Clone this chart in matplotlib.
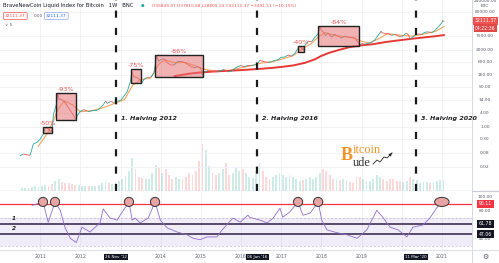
import numpy as np
import matplotlib
matplotlib.use("Agg")
import matplotlib.pyplot as plt
import matplotlib.transforms as mtrans
from matplotlib.collections import LineCollection
from matplotlib.patches import Rectangle, Ellipse

# ---- data (dates as fractional years) ----
price_t = [2010.50, 2010.58, 2010.67, 2010.75, 2010.83, 2010.92, 2011.00, 2011.08, 2011.13, 2011.20,
           2011.27, 2011.30, 2011.33, 2011.40, 2011.44, 2011.47, 2011.50, 2011.58, 2011.67, 2011.75,
           2011.83, 2011.88, 2011.92, 2012.00, 2012.08, 2012.17, 2012.25, 2012.33, 2012.42, 2012.50,
           2012.58, 2012.63, 2012.67, 2012.75, 2012.83, 2012.92, 2013.00, 2013.08, 2013.17, 2013.25,
           2013.28, 2013.33, 2013.42, 2013.50, 2013.52, 2013.58, 2013.67, 2013.75, 2013.83, 2013.90,
           2013.95, 2014.00, 2014.08, 2014.17, 2014.25, 2014.33, 2014.42, 2014.50, 2014.58, 2014.67,
           2014.75, 2014.83, 2014.92, 2015.00, 2015.04, 2015.08, 2015.17, 2015.25, 2015.33, 2015.42,
           2015.50, 2015.58, 2015.67, 2015.75, 2015.83, 2015.92, 2016.00, 2016.08, 2016.17, 2016.25,
           2016.33, 2016.42, 2016.47, 2016.50, 2016.58, 2016.67, 2016.75, 2016.83, 2016.92, 2017.00,
           2017.08, 2017.17, 2017.25, 2017.33, 2017.42, 2017.45, 2017.50, 2017.55, 2017.58, 2017.67,
           2017.75, 2017.83, 2017.92, 2017.96, 2018.00, 2018.08, 2018.10, 2018.17, 2018.25, 2018.33,
           2018.42, 2018.50, 2018.58, 2018.67, 2018.75, 2018.83, 2018.92, 2018.96, 2019.00, 2019.08,
           2019.17, 2019.25, 2019.33, 2019.42, 2019.49, 2019.50, 2019.58, 2019.67, 2019.75, 2019.83,
           2019.92, 2020.00, 2020.08, 2020.12, 2020.17, 2020.21, 2020.25, 2020.33, 2020.42, 2020.50,
           2020.58, 2020.67, 2020.75, 2020.83, 2020.92, 2021.00, 2021.02, 2021.04, 2021.06]
price = [0.06, 0.07, 0.065, 0.062, 0.19, 0.22, 0.30, 0.52, 0.95, 0.86,
         0.60, 0.78, 3.5, 8.7, 28, 15, 16.1, 13.4, 8.2, 5.1,
         3.2, 2.2, 3.0, 4.7, 5.5, 4.9, 4.9, 5.0, 5.2, 6.7,
         9.4, 13, 10.2, 12.4, 11.2, 12.6, 13.5, 20.4, 33.4, 93,
         230, 139, 129, 97, 70, 106, 135, 133, 198, 1100,
         650, 760, 830, 550, 450, 445, 628, 640, 587, 478,
         386, 338, 378, 320, 160, 217, 254, 244, 236, 230,
         263, 284, 230, 236, 314, 377, 430, 368, 437, 416,
         448, 531, 720, 673, 624, 573, 608, 700, 742, 963,
         970, 1190, 1080, 1348, 2300, 2900, 2480, 1900, 2875, 4700,
         4340, 6470, 9950, 19000, 13860, 10220, 8000, 10300, 6930, 9240,
         7490, 6400, 7730, 7030, 6630, 6320, 4020, 3250, 3740, 3460,
         3850, 4100, 5330, 8570, 12500, 10820, 10080, 9630, 8290, 9200,
         7570, 7190, 9350, 10300, 8600, 5800, 6440, 8660, 9460, 9140,
         11350, 11680, 10780, 13800, 19700, 29000, 36000, 34000, 32111.37]

ma_fast_t = [2010.95, 2011.2, 2011.45, 2011.6, 2011.8, 2012.0, 2012.3, 2012.6, 2012.9, 2013.1,
             2013.3, 2013.5, 2013.75, 2013.95, 2014.1, 2014.35, 2014.6, 2014.9, 2015.1, 2015.4,
             2015.7, 2015.95, 2016.2, 2016.5, 2016.8, 2017.0, 2017.3, 2017.5, 2017.75, 2017.95,
             2018.1, 2018.3, 2018.55, 2018.8, 2019.0, 2019.2, 2019.45, 2019.65, 2019.9, 2020.1,
             2020.25, 2020.45, 2020.65, 2020.85, 2021.05]
ma_fast = [0.15, 0.6, 6, 13, 9, 4.5, 5, 7, 11, 15,
           60, 105, 125, 480, 740, 560, 580, 390, 290, 240,
           255, 330, 400, 540, 620, 790, 1120, 2050, 3700, 7800,
           10800, 8600, 7300, 6600, 4600, 3900, 6200, 9800, 8700, 8000,
           7700, 8600, 10300, 12500, 19500]

ma_slow_t = [2014.35, 2014.7, 2015.0, 2015.3, 2015.6, 2015.9, 2016.2, 2016.5, 2016.8, 2017.0,
             2017.3, 2017.6, 2017.85, 2018.0, 2018.2, 2018.45, 2018.7, 2019.0, 2019.3, 2019.6,
             2019.9, 2020.2, 2020.5, 2020.8, 2021.05]
ma_slow = [150, 190, 215, 235, 250, 265, 285, 310, 340, 370,
           430, 560, 800, 1100, 1500, 2000, 2600, 3100, 3500, 4300,
           5000, 5800, 6600, 7500, 8500]

# monthly volume from Jul 2010 (arbitrary units)
volume = [3, 3, 3, 4, 5, 4,
          5, 6, 5, 7, 10, 12, 9, 8, 8, 7, 6, 6,
          5, 5, 5, 5, 5, 6, 8, 9, 8, 7, 9, 10,
          12, 15, 20, 33, 22, 14, 13, 12, 12, 18, 26, 24,
          18, 22, 16, 12, 14, 12, 11, 14, 18, 16, 20, 30,
          46, 40, 25, 18, 16, 18, 22, 28, 16, 18, 24, 20,
          22, 18, 14, 13, 20, 28, 20, 14, 12, 14, 16, 18,
          16, 14, 16, 14, 12, 10, 11, 12, 14, 12, 14, 18,
          22, 20, 16, 12, 12, 11, 12, 10, 9, 8, 14, 14,
          12, 10, 10, 12, 16, 14, 12, 10, 12, 12, 10, 10,
          9, 10, 14, 12, 11, 8, 9, 9, 8, 9, 10, 11,
          11]
vol_start = 2010.5

rsi_t = [2010.80, 2011.07, 2011.20, 2011.37, 2011.50, 2011.62, 2011.75, 2011.90, 2012.04, 2012.24,
         2012.49, 2012.57, 2012.74, 2012.92, 2012.99, 2013.21, 2013.29, 2013.36, 2013.49, 2013.69,
         2013.86, 2013.99, 2014.16, 2014.41, 2014.66, 2014.81, 2014.98, 2015.15, 2015.40, 2015.53,
         2015.80, 2015.98, 2016.17, 2016.22, 2016.47, 2016.65, 2016.80, 2016.97, 2017.04, 2017.22,
         2017.42, 2017.54, 2017.72, 2017.92, 2018.01, 2018.14, 2018.39, 2018.64, 2018.89, 2019.13,
         2019.38, 2019.53, 2019.71, 2019.91, 2020.13, 2020.28, 2020.53, 2020.70, 2020.88, 2021.00,
         2021.04]
rsi = [88, 93, 64, 93, 81, 56, 41, 35, 57, 50,
       63, 83, 70, 67, 74, 93, 67, 70, 63, 70,
       93, 67, 56, 50, 46, 41, 39, 43, 43, 53,
       70, 64, 74, 71, 67, 63, 70, 84, 71, 79,
       93, 74, 77, 93, 67, 53, 49, 46, 41, 53,
       81, 71, 57, 53, 43, 57, 60, 70, 85, 94,
       90]

# drawdown boxes: label, start, end, high, low
dd_labels = ["-50%", "-93%", "-75%", "-86%", "-40%", "-84%"]
dd_start = [2011.07, 2011.40, 2013.26, 2013.86, 2017.42, 2017.92]
dd_end = [2011.30, 2011.90, 2013.51, 2015.05, 2017.57, 2018.94]
dd_high = [1.0, 28.3, 300, 1200, 2900, 20800]
dd_low = [0.55, 2.0, 76, 137, 1600, 2900]

halving_t = [2012.89, 2016.40, 2020.35]
halving_labels = ["1. Halving 2012", "2. Halving 2016", "3. Halving 2020"]
halving_dates = ["26 Nov '12", "06 Jun '16", "11 Mar '20"]

rsi_peaks = [2011.07, 2011.37, 2013.21, 2013.86, 2017.42, 2017.92, 2021.0]
user_levels = [61.78, 47.06]
rsi_last = 90.11

price_ticks = [80000, 7500, 2000, 600, 160, 50, 14, 4, 1, 0.3, 0.08, 0.02]
years = [2011, 2012, 2014, 2015, 2016, 2017, 2018, 2019, 2021]

# ---- layout ----
W, H = 499, 263
fig = plt.figure(figsize=(W / 100, H / 100), dpi=100)
fig.patch.set_facecolor("white")


def fx(px):
    return px / W


def fy(py):
    return 1 - py / H


XLIM = (2010.0, 2021.75)
TEAL, RED = "#26a69a", "#ef5350"
GRID = "#eef0f4"
TXT = "#555a66"

rect_p = [0, fy(191), fx(472), fy(0) - fy(191)]
axv = fig.add_axes(rect_p)
ax = fig.add_axes(rect_p)
axr = fig.add_axes([0, fy(250), fx(472), fy(191) - fy(250)])

# volume in background
axv.set_xlim(*XLIM)
axv.set_ylim(0, max(volume) * 4.1)
vx = vol_start + np.arange(len(volume)) / 12 + 1 / 24
vp = np.interp(vx, price_t, price)
up = np.r_[True, np.diff(vp) >= 0]
axv.bar(vx, volume, width=1 / 12 * 0.55, color=[TEAL if u else RED for u in up], alpha=0.22, lw=0)
for y in years + [2013, 2020]:
    axv.axvline(y, color=GRID, lw=0.6, zorder=0)
axv.axis("off")

# price panel
ax.set_zorder(2)
ax.patch.set_visible(False)
ax.set_yscale("log")
ax.set_xlim(*XLIM)
ax.set_ylim(10 ** -2.735, 10 ** 5.43)
for p in price_ticks:
    ax.axhline(p, color=GRID, lw=0.6, zorder=0)

pts = np.column_stack([price_t, price])
segs = np.stack([pts[:-1], pts[1:]], axis=1)
cols = [TEAL if b >= a else RED for a, b in zip(price[:-1], price[1:])]
ax.add_collection(LineCollection(segs, colors=cols, lw=0.6, zorder=4))
ax.plot(ma_fast_t, ma_fast, color="#f5a35c", lw=0.8, zorder=3)
ax.plot(ma_slow_t, ma_slow, color="#e53935", lw=1.4, zorder=3)

for lab, x0, x1, hi, lo in zip(dd_labels, dd_start, dd_end, dd_high, dd_low):
    ax.add_patch(Rectangle((x0, lo), x1 - x0, hi - lo, facecolor="#e57373", alpha=0.55,
                           edgecolor="none", zorder=5))
    ax.add_patch(Rectangle((x0, lo), x1 - x0, hi - lo, facecolor="none",
                           edgecolor="#222222", lw=1.0, zorder=6))
    ax.text((x0 + x1) / 2, hi * 10 ** (1.2 / 23.4), lab, color=RED, fontsize=4.6,
            ha="center", va="bottom", zorder=6)

for t, lab in zip(halving_t, halving_labels):
    ax.axvline(t, color="#1a1a1a", lw=1.6, ls=(0, (3.2, 4.6)), zorder=6)
    ax.text(t + 0.13, 10 ** ((127 - 118) / 23.4), lab, fontsize=4.6, fontweight="bold",
            fontstyle="italic", color="#222222", ha="left", va="center", zorder=7)

ax.set_xticks([])
ax.set_yticks([])
ax.minorticks_off()
for s in ax.spines.values():
    s.set_visible(False)

# right price scale
trp = mtrans.blended_transform_factory(fig.transFigure, ax.transData)
for p in price_ticks:
    ax.text(fx(485), p, f"{p:.2f}", transform=trp, fontsize=3.2, color=TXT,
            ha="center", va="center", clip_on=False)
fig.text(fx(485), fy(1), "240000.00", fontsize=3.2, color=TXT, ha="center", va="center")
fig.text(fx(485), fy(6), "BTC", fontsize=3.2, color=TXT, ha="center", va="center")
fig.text(fx(485.5), fy(21), "32111.37", fontsize=3.3, color="white", ha="center", va="center",
         bbox=dict(boxstyle="square,pad=0.35", fc=RED, ec="none"))
fig.text(fx(485.5), fy(28), "04:22:36", fontsize=3.3, color="white", ha="center", va="center",
         bbox=dict(boxstyle="square,pad=0.35", fc="#e04848", ec="none"))

# RSI panel
axr.set_xlim(*XLIM)
axr.set_ylim(24.3, 108.6)
for y in years + [2013, 2020]:
    axr.axvline(y, color=GRID, lw=0.6, zorder=0)
axr.axhspan(30, 70, color="#7e57c2", alpha=0.1, lw=0, zorder=0)
axr.axhline(70, color="#b5a8cc", lw=0.4, ls=(0, (4, 3)))
axr.axhline(30, color="#b5a8cc", lw=0.4, ls=(0, (4, 3)))
axr.axhline(rsi_last, color="#f23645", lw=0.9, zorder=2)
for lv in user_levels:
    axr.axhline(lv, color="#3f2f52", lw=1.2, zorder=2)
axr.plot(rsi_t, rsi, color="#8e6cc9", lw=0.6, zorder=3)
for i, t in enumerate(rsi_peaks):
    w = 0.36 if i == len(rsi_peaks) - 1 else 0.23
    axr.add_patch(Ellipse((t, 93), w, 13, facecolor="#e8a3a3", edgecolor="#333333",
                          lw=0.7, zorder=4))
axr.text(2010.35, 69, "1", fontsize=4.2, fontstyle="italic", fontweight="bold",
         color="#222222", ha="center", va="center")
axr.text(2010.35, 55, "2", fontsize=4.2, fontstyle="italic", fontweight="bold",
         color="#222222", ha="center", va="center")
axr.set_yticks([])
axr.set_xticks(years)
axr.set_xticklabels([str(y) for y in years], fontsize=3.3, color=TXT)
axr.tick_params(axis="x", length=0, pad=3.2)
for s in axr.spines.values():
    s.set_visible(False)

trr = mtrans.blended_transform_factory(fig.transFigure, axr.transData)
for v in [100, 80, 40]:
    axr.text(fx(485), v, f"{v:.2f}", transform=trr, fontsize=3.2, color=TXT,
             ha="center", va="center", clip_on=False)
axr.text(fx(485.5), rsi_last, f"{rsi_last:.2f}", transform=trr, fontsize=3.3, color="white",
         ha="center", va="center", clip_on=False,
         bbox=dict(boxstyle="square,pad=0.35", fc="#f23645", ec="none"))
for lv in user_levels:
    axr.text(fx(485.5), lv, f"{lv:.2f}", transform=trr, fontsize=3.3, color="white",
             ha="center", va="center", clip_on=False,
             bbox=dict(boxstyle="square,pad=0.35", fc="#131722", ec="none"))

# date markers on time scale
trt = mtrans.blended_transform_factory(axr.transData, fig.transFigure)
for t, d in zip(halving_t, halving_dates):
    axr.text(t, fy(257), d, transform=trt, fontsize=3.0, color="white", ha="center",
             va="center", clip_on=False, zorder=10,
             bbox=dict(boxstyle="square,pad=0.3", fc="#131722", ec="none"))

# separators
sep = fig.add_axes([0, 0, 1, 1], zorder=-1)
sep.set_xlim(0, W)
sep.set_ylim(H, 0)
sep.axis("off")
sep.plot([472, 472], [0, H], color="#d6d9e0", lw=0.7)
sep.plot([0, W], [191, 191], color="#c9ccd3", lw=0.9)
sep.plot([0, W], [250, 250], color="#d6d9e0", lw=0.6)

# header legend
fig.text(fx(3), fy(6), "BraveNewCoin Liquid Index for Bitcoin   1W   BNC", fontsize=3.8,
         color="#131722", ha="left", va="center")
fig.text(fx(143), fy(6), "\u25cf", fontsize=3.0, color=TEAL, ha="center", va="center")
fig.text(fx(152), fy(6), "O35849.47 H37810.68 L28809.14 C32111.37 \u22123491.51 (\u221210.15%)",
         fontsize=3.1, color=RED, ha="left", va="center")
fig.text(fx(5), fy(16), "32111.37", fontsize=3.2, color=RED, ha="left", va="center",
         bbox=dict(boxstyle="round,pad=0.35,rounding_size=0.3", fc="white", ec=RED, lw=0.5))
fig.text(fx(34), fy(16), "0.00", fontsize=3.0, color=TXT, ha="left", va="center")
fig.text(fx(46), fy(16), "32111.37", fontsize=3.2, color="#2962ff", ha="left", va="center",
         bbox=dict(boxstyle="round,pad=0.35,rounding_size=0.3", fc="white", ec="#8fa8f0", lw=0.5))
fig.text(fx(5), fy(25), "\u2228 5", fontsize=3.2, color=TXT, ha="left", va="center")

# watermark logo
fig.text(fx(341), fy(156), "B", fontsize=13, fontweight="bold", color="#f29327",
         family="Liberation Serif", ha="left", va="center")
fig.text(fx(352.5), fy(150), "itcoin", fontsize=8.8, color="#f29327", family="Liberation Serif",
         ha="left", va="center")
fig.text(fx(353), fy(163), "ude", fontsize=8.8, color="#333333", family="Liberation Serif",
         ha="left", va="center")
sep2 = fig.add_axes([0, 0, 1, 1], zorder=8)
sep2.set_xlim(0, W)
sep2.set_ylim(H, 0)
sep2.axis("off")
sep2.plot([373, 377, 380, 384, 387, 390], [164, 160, 162, 157, 158, 155], color="#222222", lw=0.6)
sep2.annotate("", xy=(394, 151), xytext=(390, 155),
              arrowprops=dict(arrowstyle="-|>", color="#222222", lw=0.6, mutation_scale=4))
sep2.text(485, 257, "\u2699", fontsize=5, color="#555a66", ha="center", va="center")

fig.savefig("out.png", dpi=100, facecolor="white")
